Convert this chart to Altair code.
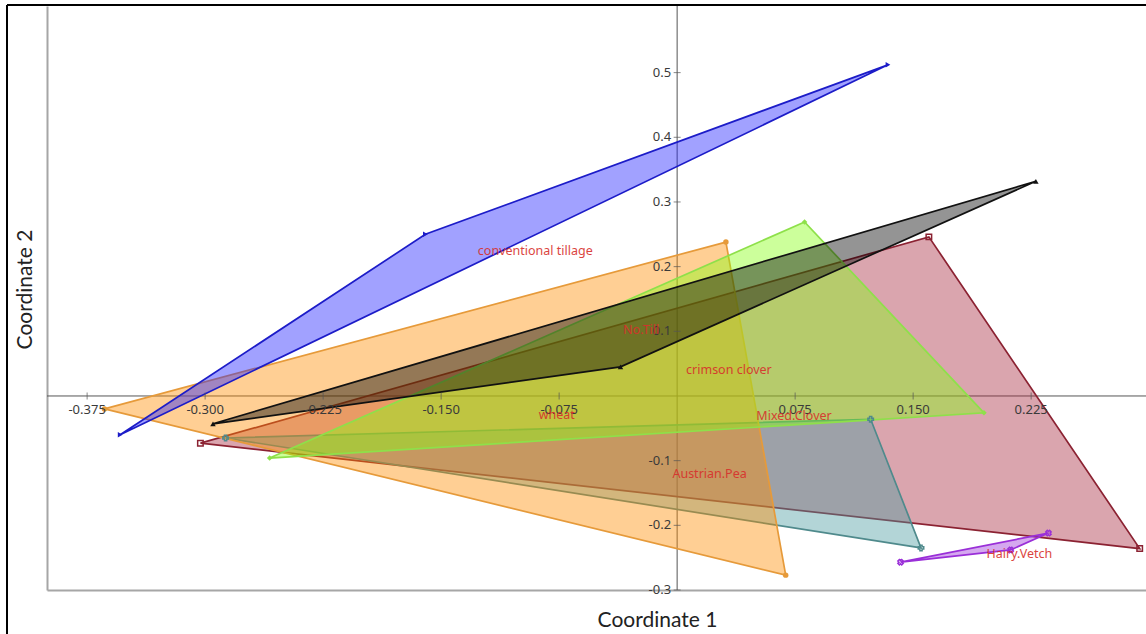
import altair as alt
import pandas as pd

# ---- data ----
group_names = ["Mixed.Clover", "Austrian.Pea", "wheat", "crimson clover",
               "No.Till", "conventional tillage", "Hairy.Vetch"]
coord1 = [
    [-0.303, 0.160, 0.294],    # Mixed.Clover
    [-0.287, 0.123, 0.155],    # Austrian.Pea
    [-0.364, 0.031, 0.069],    # wheat
    [-0.259, 0.081, 0.195],    # crimson clover
    [-0.295, -0.036, 0.228],   # No.Till
    [-0.354, -0.160, 0.134],   # conventional tillage
    [0.142, 0.212, 0.236],     # Hairy.Vetch
]
coord2 = [
    [-0.073, 0.246, -0.236],
    [-0.065, -0.036, -0.235],
    [-0.020, 0.238, -0.277],
    [-0.096, 0.269, -0.026],
    [-0.043, 0.045, 0.332],
    [-0.060, 0.250, 0.512],
    [-0.257, -0.238, -0.212],
]
edge_colors = ["#8b2232", "#4f8a8c", "#e69a3a", "#8ee04a", "#111111", "#1c1cc8", "#9a2fd8"]
fill_colors = ["#a8283e", "#4a9aa0", "#ff8c00", "#86ff10", "#000000", "#2020ff", "#9a2fd8"]
marker_shapes = ["square", "cross", "circle", "diamond", "triangle-up", "triangle-right", "cross"]

x_ticks = [-0.375, -0.300, -0.225, -0.150, -0.075, 0.075, 0.150, 0.225]
x_tick_labels = ["-0.375", "-0.300", "-0.225", "-0.150", "-0.075", "0.075", "0.150", "0.225"]
y_ticks = [0.5, 0.4, 0.3, 0.2, 0.1, -0.1, -0.2, -0.3]
y_tick_labels = ["0.5", "0.4", "0.3", "0.2", "0.1", "-0.1", "-0.2", "-0.3"]

x_domain = [-0.4005, 0.298]
y_domain = [-0.3, 0.603]

# ---- build tables ----
pts_rows, hull_rows = [], []
for g, xs, ys in zip(group_names, coord1, coord2):
    for i, (a, b) in enumerate(zip(xs, ys)):
        pts_rows.append({"group": g, "c1": a, "c2": b})
        hull_rows.append({"group": g, "c1": a, "c2": b, "k": i})
    hull_rows.append({"group": g, "c1": xs[0], "c2": ys[0], "k": len(xs)})
pts = pd.DataFrame(pts_rows)
hull = pd.DataFrame(hull_rows)
xt = pd.DataFrame({"v": x_ticks, "lab": x_tick_labels})
yt = pd.DataFrame({"v": y_ticks, "lab": y_tick_labels})

xs = alt.Scale(domain=x_domain, nice=False, zero=False)
ys = alt.Scale(domain=y_domain, nice=False, zero=False)
X = alt.X("c1:Q", scale=xs, axis=alt.Axis(
    title="Coordinate 1", labels=False, ticks=False, grid=False,
    domainColor="#a6a6a6", domainWidth=2, titleFont="Lato", titleFontSize=21,
    titleFontWeight="normal", titleColor="#222222", titleX=610, titleY=30,
    titleBaseline="middle", titleAlign="center"))
Y = alt.Y("c2:Q", scale=ys, axis=alt.Axis(
    title="Coordinate 2", labels=False, ticks=False, grid=False,
    domainColor="#a6a6a6", domainWidth=2, titleFont="Lato", titleFontSize=21,
    titleFontWeight="normal", titleColor="#222222", titleX=-22, titleY=283,
    titleBaseline="middle", titleAlign="center"))

layers = []

# centre axes
layers.append(alt.Chart(pd.DataFrame({"v": [0.0]})).mark_rule(color="#555555", strokeWidth=1).encode(
    x=alt.X("v:Q", scale=xs)))
layers.append(alt.Chart(pd.DataFrame({"v": [0.0]})).mark_rule(color="#555555", strokeWidth=1).encode(
    y=alt.Y("v:Q", scale=ys)))

# hulls
for g, ec, fc in zip(group_names, edge_colors, fill_colors):
    layers.append(
        alt.Chart(hull[hull.group == g]).mark_line(
            stroke=ec, strokeWidth=1.7, fill=fc, fillOpacity=0.42, interpolate="linear"
        ).encode(x=X, y=Y, order="k:Q")
    )

# points
for g, ec, sh in zip(group_names, edge_colors, marker_shapes):
    angle = 45 if g == "Hairy.Vetch" else 0
    filled = sh not in ("cross", "square")
    layers.append(
        alt.Chart(pts[pts.group == g]).mark_point(
            shape=sh, color=ec, size=30, filled=filled, strokeWidth=1.5, angle=angle, opacity=1
        ).encode(x=X, y=Y)
    )

# tick marks and labels
layers.append(alt.Chart(xt).mark_tick(color="#555555", size=7, thickness=1, orient="vertical").encode(
    x=alt.X("v:Q", scale=xs), y=alt.datum(0)))
layers.append(alt.Chart(xt).mark_text(font="Noto Sans", fontSize=13, color="#3a3a3a", dy=14).encode(
    x=alt.X("v:Q", scale=xs), y=alt.datum(0), text="lab:N"))
layers.append(alt.Chart(yt).mark_tick(color="#555555", size=7, thickness=1, orient="horizontal").encode(
    y=alt.Y("v:Q", scale=ys), x=alt.datum(0)))
layers.append(alt.Chart(yt).mark_text(font="Noto Sans", fontSize=13, color="#3a3a3a", dx=-6, align="right").encode(
    y=alt.Y("v:Q", scale=ys), x=alt.datum(0), text="lab:N"))

# group labels at centroids
layers.append(
    alt.Chart(pts).transform_aggregate(
        c1="mean(c1)", c2="mean(c2)", groupby=["group"]
    ).mark_text(font="Noto Sans", fontSize=12.5, color="#d8302c", align="left", baseline="top", opacity=0.9
    ).encode(x=alt.X("c1:Q", scale=xs), y=alt.Y("c2:Q", scale=ys), text="group:N")
)

# outer frame
layers.append(alt.Chart(pd.DataFrame({"a": [0]})).mark_rule(color="#000000", strokeWidth=2, clip=False).encode(
    x=alt.value(-40), x2=alt.value(1100), y=alt.value(-1)))
layers.append(alt.Chart(pd.DataFrame({"a": [0]})).mark_rule(color="#000000", strokeWidth=2, clip=False).encode(
    x=alt.value(-40), y=alt.value(-1), y2=alt.value(640)))

chart = alt.layer(*layers).properties(
    width=1099, height=584,
    autosize=alt.AutoSizeParams(type="none"),
    padding={"left": 47, "top": 6, "right": 0, "bottom": 44},
    background="white",
).configure_view(stroke=None)

chart.save("out.html", embed_options={"renderer": "svg", "actions": False})
